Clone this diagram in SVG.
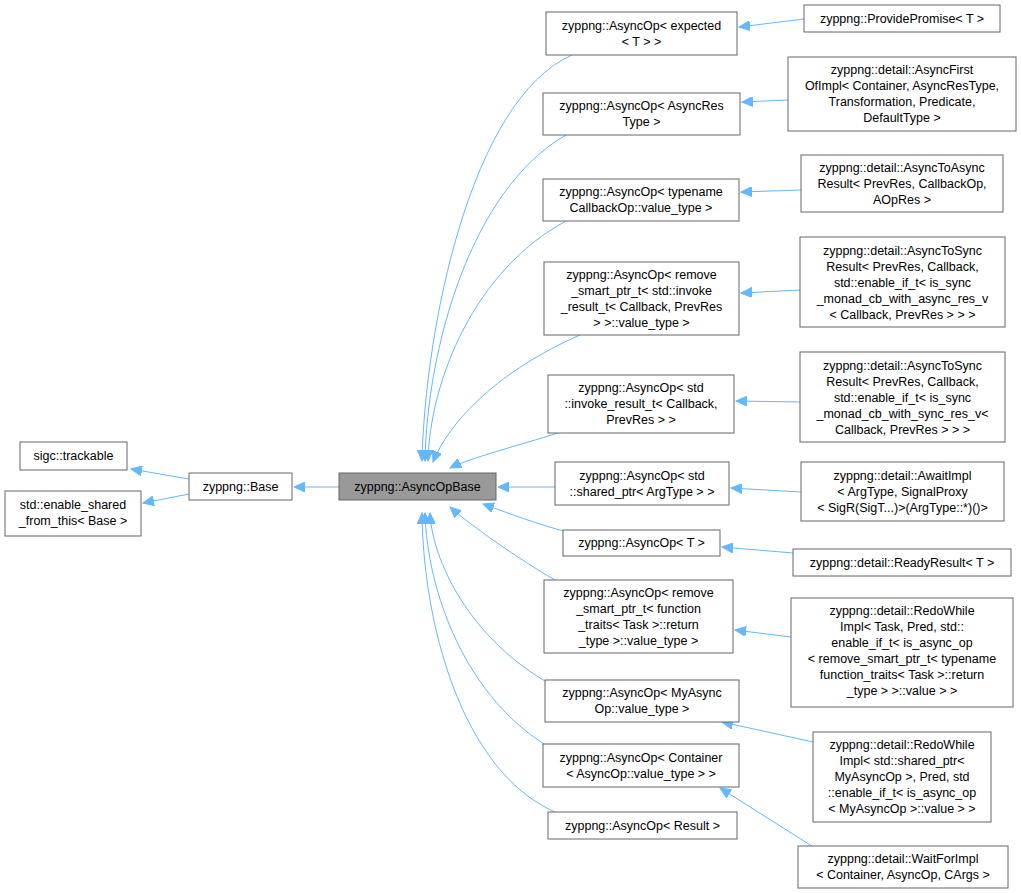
<svg xmlns="http://www.w3.org/2000/svg" width="1021" height="893" viewBox="0 0 1021 893">
<style>
rect{fill:#fff;stroke:#666;stroke-width:1}
#n_base_op rect{fill:#999}
text{font-family:"Liberation Sans",Arial,sans-serif;font-size:12.5px;fill:#000;text-anchor:middle}
#edges path{fill:none;stroke:#63b8ff;stroke-width:1;marker-end:url(#a)}
</style>
<defs><marker id="a" markerWidth="12" markerHeight="10" refX="11" refY="5" orient="auto" markerUnits="userSpaceOnUse"><path d="M0,0 L11,5 L0,10 z" fill="#63b8ff" stroke="#63b8ff"/></marker></defs>
<g id="edges">
<path d="M189,479 L131,469"/>
<path d="M189,494 L143,503"/>
<path d="M339,487 L294,487"/>
<path d="M572,55 C470,100 425,330 422,461"/>
<path d="M566,135 C470,190 427,350 425,461"/>
<path d="M566,221 C475,270 430,380 428,461"/>
<path d="M580,335 C500,370 450,420 433,462"/>
<path d="M558,433 C520,445 470,458 450,468"/>
<path d="M555,487 L498,487"/>
<path d="M567,532 C540,525 505,512 483,504"/>
<path d="M555,580 C520,560 470,525 450,507"/>
<path d="M552,685 C470,640 432,560 430,513"/>
<path d="M554,750 C465,700 427,590 425,513"/>
<path d="M555,812 C460,770 423,620 422,513"/>
<path d="M804,19 L739,27"/>
<path d="M788,100 L742,102"/>
<path d="M801,190 L741,192"/>
<path d="M800,290 L741,293"/>
<path d="M800,402 L736,401"/>
<path d="M801,492 L731,488"/>
<path d="M793,553 L722,547"/>
<path d="M791,637 L735,630"/>
<path d="M813,742 L722,722"/>
<path d="M815,848 L720,788"/>
</g>
<g id="n_trackable"><rect x="20" y="442" width="107" height="28"/><text x="73.5" y="460">sigc::trackable</text></g>
<g id="n_enable"><rect x="5" y="491" width="136" height="45"/><text x="73" y="509">std::enable_shared</text><text x="73" y="525">_from_this&lt; Base &gt;</text></g>
<g id="n_base"><rect x="189" y="473" width="103" height="27"/><text x="240.5" y="491">zyppng::Base</text></g>
<g id="n_base_op"><rect x="339" y="473" width="157" height="27"/><text x="417.5" y="491">zyppng::AsyncOpBase</text></g>
<g id="n1"><rect x="546" y="12" width="191" height="43"/><text x="641.5" y="30">zyppng::AsyncOp&lt; expected</text><text x="641.5" y="46">&lt; T &gt; &gt;</text></g>
<g id="n2"><rect x="543" y="93" width="197" height="42"/><text x="641.5" y="110">zyppng::AsyncOp&lt; AsyncRes</text><text x="641.5" y="126">Type &gt;</text></g>
<g id="n3"><rect x="543" y="179" width="196" height="42"/><text x="641" y="196">zyppng::AsyncOp&lt; typename</text><text x="641" y="212">CallbackOp::value_type &gt;</text></g>
<g id="n4"><rect x="544" y="262" width="195" height="73"/><text x="641.5" y="279">zyppng::AsyncOp&lt; remove</text><text x="641.5" y="295">_smart_ptr_t&lt; std::invoke</text><text x="641.5" y="311">_result_t&lt; Callback, PrevRes</text><text x="641.5" y="327">&gt; &gt;::value_type &gt;</text></g>
<g id="n5"><rect x="548" y="375" width="186" height="58"/><text x="641" y="392">zyppng::AsyncOp&lt; std</text><text x="641" y="408">::invoke_result_t&lt; Callback,</text><text x="641" y="424">PrevRes &gt; &gt;</text></g>
<g id="n6"><rect x="555" y="462" width="174" height="43"/><text x="642" y="480">zyppng::AsyncOp&lt; std</text><text x="642" y="496">::shared_ptr&lt; ArgType &gt; &gt;</text></g>
<g id="n7"><rect x="563" y="530" width="157" height="26"/><text x="641.5" y="547">zyppng::AsyncOp&lt; T &gt;</text></g>
<g id="n8"><rect x="544" y="580" width="189" height="73"/><text x="638.5" y="597">zyppng::AsyncOp&lt; remove</text><text x="638.5" y="613">_smart_ptr_t&lt; function</text><text x="638.5" y="629">_traits&lt; Task &gt;::return</text><text x="638.5" y="645">_type &gt;::value_type &gt;</text></g>
<g id="n9"><rect x="545" y="680" width="194" height="42"/><text x="642" y="697">zyppng::AsyncOp&lt; MyAsync</text><text x="642" y="713">Op::value_type &gt;</text></g>
<g id="n10"><rect x="543" y="744" width="196" height="43"/><text x="641" y="762">zyppng::AsyncOp&lt; Container</text><text x="641" y="778">&lt; AsyncOp::value_type &gt; &gt;</text></g>
<g id="n11"><rect x="548" y="812" width="189" height="27"/><text x="642.5" y="830">zyppng::AsyncOp&lt; Result &gt;</text></g>
<g id="m1"><rect x="804" y="5" width="196" height="27"/><text x="902" y="23">zyppng::ProvidePromise&lt; T &gt;</text></g>
<g id="m2"><rect x="788" y="57" width="228" height="74"/><text x="902" y="74">zyppng::detail::AsyncFirst</text><text x="902" y="90">OfImpl&lt; Container, AsyncResType,</text><text x="902" y="106">Transformation, Predicate,</text><text x="902" y="122">DefaultType &gt;</text></g>
<g id="m3"><rect x="801" y="155" width="202" height="57"/><text x="902" y="172">zyppng::detail::AsyncToAsync</text><text x="902" y="188">Result&lt; PrevRes, CallbackOp,</text><text x="902" y="204">AOpRes &gt;</text></g>
<g id="m4"><rect x="800" y="237" width="205" height="90"/><text x="902.5" y="255">zyppng::detail::AsyncToSync</text><text x="902.5" y="271">Result&lt; PrevRes, Callback,</text><text x="902.5" y="287">std::enable_if_t&lt; is_sync</text><text x="902.5" y="303">_monad_cb_with_async_res_v</text><text x="902.5" y="319">&lt; Callback, PrevRes &gt; &gt; &gt;</text></g>
<g id="m5"><rect x="800" y="352" width="205" height="90"/><text x="902.5" y="370">zyppng::detail::AsyncToSync</text><text x="902.5" y="386">Result&lt; PrevRes, Callback,</text><text x="902.5" y="402">std::enable_if_t&lt; is_sync</text><text x="902.5" y="418">_monad_cb_with_sync_res_v&lt;</text><text x="902.5" y="434">Callback, PrevRes &gt; &gt; &gt;</text></g>
<g id="m6"><rect x="801" y="462" width="203" height="59"/><text x="902.5" y="480">zyppng::detail::AwaitImpl</text><text x="902.5" y="496">&lt; ArgType, SignalProxy</text><text x="902.5" y="512">&lt; SigR(SigT...)&gt;(ArgType::*)()&gt;</text></g>
<g id="m7"><rect x="793" y="549" width="218" height="27"/><text x="902" y="567">zyppng::detail::ReadyResult&lt; T &gt;</text></g>
<g id="m8"><rect x="791" y="598" width="222" height="109"/><text x="902" y="615">zyppng::detail::RedoWhile</text><text x="902" y="631">Impl&lt; Task, Pred, std::</text><text x="902" y="647">enable_if_t&lt; is_async_op</text><text x="902" y="663">&lt; remove_smart_ptr_t&lt; typename</text><text x="902" y="679">function_traits&lt; Task &gt;::return</text><text x="902" y="695">_type &gt; &gt;::value &gt; &gt;</text></g>
<g id="m9"><rect x="813" y="732" width="178" height="90"/><text x="902" y="749">zyppng::detail::RedoWhile</text><text x="902" y="765">Impl&lt; std::shared_ptr&lt;</text><text x="902" y="781">MyAsyncOp &gt;, Pred, std</text><text x="902" y="797">::enable_if_t&lt; is_async_op</text><text x="902" y="813">&lt; MyAsyncOp &gt;::value &gt; &gt;</text></g>
<g id="m10"><rect x="798" y="846" width="210" height="42"/><text x="903" y="863">zyppng::detail::WaitForImpl</text><text x="903" y="879">&lt; Container, AsyncOp, CArgs &gt;</text></g>
</svg>
